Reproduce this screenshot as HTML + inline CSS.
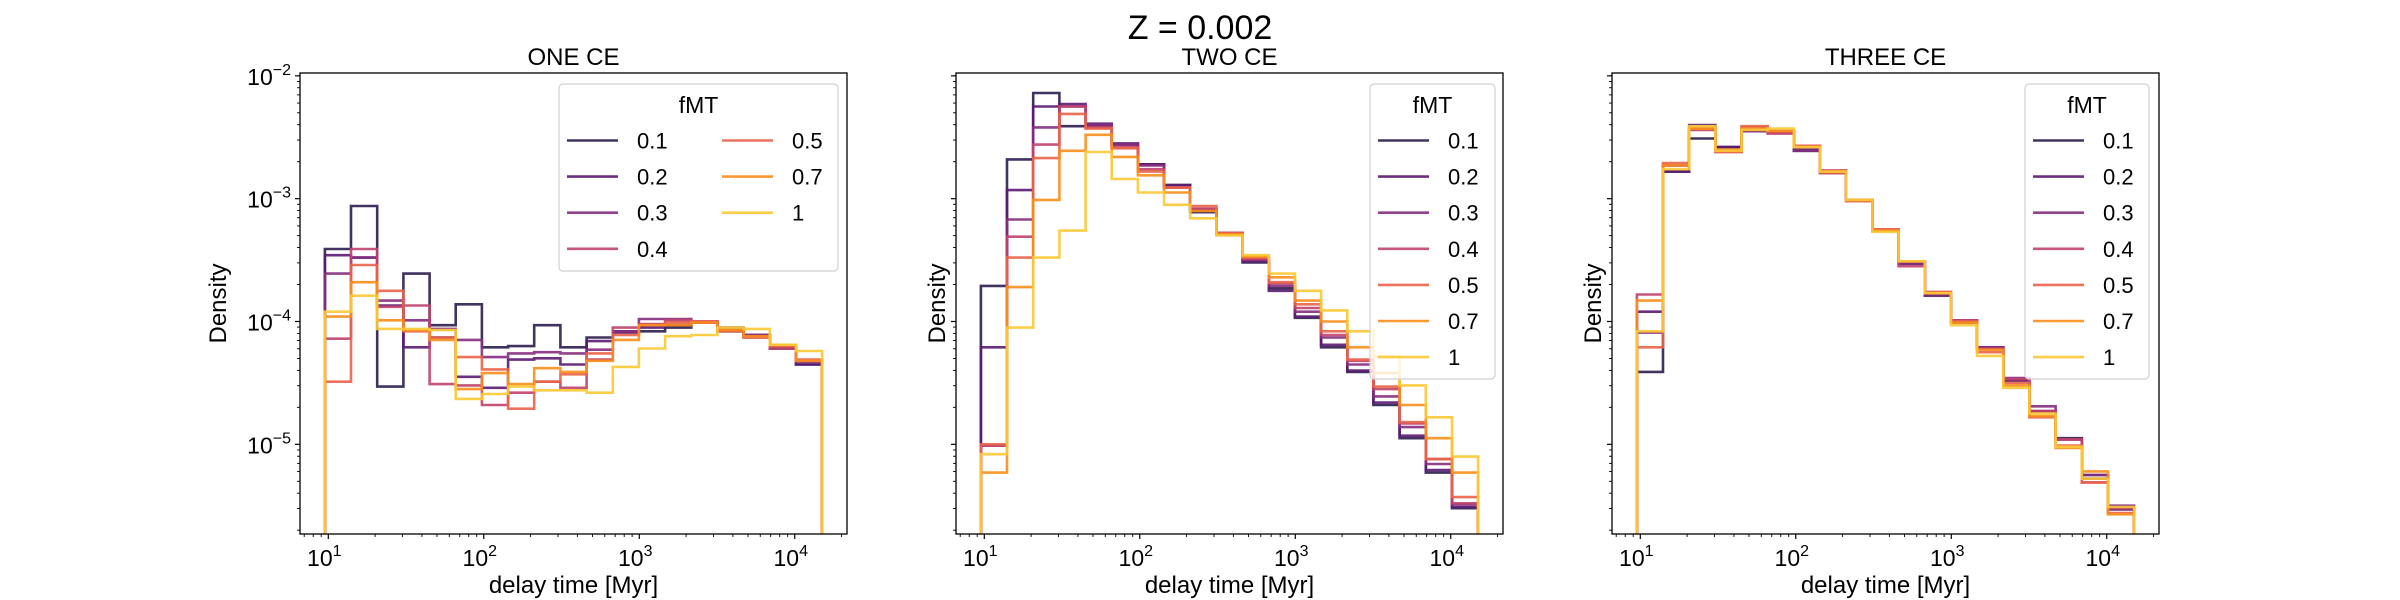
<!DOCTYPE html>
<html><head><meta charset="utf-8"><style>
html,body{margin:0;padding:0;background:#fff;}
svg{display:block;font-family:"Liberation Sans","DejaVu Sans",sans-serif;}
</style></head><body>
<svg id="fig" width="2400" height="600" viewBox="0 0 2400 600" xmlns="http://www.w3.org/2000/svg">
<rect x="0" y="0" width="2400" height="600" fill="#fff"/>
<text x="1200" y="39" text-anchor="middle" font-size="34">Z = 0.002</text>
</svg>
<script>
// ---- data: log10(Density) per bin, 19 log-spaced bins ----
const fmtLabels = ["0.1","0.2","0.3","0.4","0.5","0.7","1"];
const panelTitles = ["ONE CE","TWO CE","THREE CE"];
const binLogMin = 0.978;   // log10(9.5 Myr)
const binLogMax = 4.176;   // log10(15000 Myr)
const nBins = 19;
const yTickExps = [-2,-3,-4,-5];
const xTickExps = [1,2,3,4];

const one_01 = [-3.41,-3.06,-4.53,-3.61,-4.03,-3.86,-4.21,-4.20,-4.03,-4.21,-4.13,-4.08,-4.08,-4.05,-4.01,-4.08,-4.11,-4.22,-4.35];
const one_02 = [-3.46,-3.48,-3.87,-4.21,-4.13,-4.45,-4.54,-4.31,-4.30,-4.35,-4.16,-4.09,-4.05,-4.03,-4.01,-4.06,-4.11,-4.22,-4.35];
const one_03 = [-3.61,-3.48,-3.83,-3.99,-4.06,-4.15,-4.29,-4.26,-4.25,-4.26,-4.23,-4.08,-3.98,-3.98,-4.00,-4.05,-4.11,-4.21,-4.33];
const one_04 = [-4.14,-3.41,-3.88,-3.87,-4.51,-4.52,-4.68,-4.58,-4.49,-4.54,-4.31,-4.05,-4.02,-3.99,-4.00,-4.06,-4.13,-4.22,-4.32];
const one_05 = [-4.49,-3.54,-3.75,-4.08,-4.13,-4.29,-4.39,-4.71,-4.49,-4.43,-4.26,-4.11,-4.03,-4.01,-4.00,-4.08,-4.13,-4.20,-4.31];
const one_07 = [-3.96,-3.68,-3.99,-4.07,-4.15,-4.55,-4.42,-4.51,-4.38,-4.41,-4.32,-4.15,-4.03,-4.03,-4.01,-4.07,-4.12,-4.19,-4.32];
const one_1  = [-3.92,-3.79,-4.06,-4.06,-4.07,-4.63,-4.59,-4.53,-4.56,-4.56,-4.58,-4.37,-4.22,-4.12,-4.11,-4.05,-4.06,-4.19,-4.24];

const two_01 = [-3.71,-2.68,-2.14,-2.41,-2.41,-2.56,-2.72,-2.89,-3.11,-3.28,-3.52,-3.73,-3.97,-4.21,-4.41,-4.68,-4.95,-5.23,-5.52];
const two_02 = [-4.21,-2.93,-2.25,-2.23,-2.39,-2.55,-2.72,-2.89,-3.09,-3.28,-3.51,-3.75,-3.96,-4.19,-4.40,-4.66,-4.93,-5.21,-5.51];
const two_03 = [-5.01,-3.17,-2.42,-2.25,-2.40,-2.56,-2.73,-2.91,-3.09,-3.28,-3.50,-3.71,-3.92,-4.13,-4.35,-4.61,-4.86,-5.16,-5.49];
const two_04 = [-5.01,-3.31,-2.56,-2.25,-2.42,-2.58,-2.76,-2.91,-3.08,-3.28,-3.49,-3.69,-3.89,-4.11,-4.32,-4.55,-4.83,-5.12,-5.48];
const two_05 = [-5.00,-3.48,-2.67,-2.31,-2.43,-2.59,-2.78,-2.91,-3.06,-3.28,-3.48,-3.68,-3.86,-4.08,-4.31,-4.53,-4.82,-5.12,-5.43];
const two_07 = [-5.23,-3.72,-3.01,-2.61,-2.48,-2.66,-2.81,-2.95,-3.10,-3.29,-3.47,-3.64,-3.83,-4.00,-4.21,-4.42,-4.68,-4.95,-5.23];
const two_1  = [-5.08,-4.05,-3.48,-3.26,-2.62,-2.84,-2.95,-3.05,-3.16,-3.30,-3.46,-3.61,-3.75,-3.91,-4.08,-4.28,-4.52,-4.78,-5.10];

const three_01 = [-4.41,-2.78,-2.51,-2.58,-2.45,-2.45,-2.61,-2.79,-3.01,-3.26,-3.51,-3.78,-4.00,-4.21,-4.48,-4.73,-4.95,-5.25,-5.52];
const three_02 = [-3.92,-2.78,-2.40,-2.58,-2.45,-2.45,-2.60,-2.79,-3.01,-3.26,-3.53,-3.79,-4.01,-4.21,-4.48,-4.73,-4.96,-5.28,-5.53];
const three_03 = [-4.09,-2.73,-2.43,-2.61,-2.45,-2.46,-2.61,-2.78,-3.01,-3.26,-3.52,-3.78,-3.99,-4.21,-4.46,-4.69,-4.96,-5.25,-5.50];
const three_04 = [-3.78,-2.73,-2.44,-2.62,-2.42,-2.47,-2.57,-2.77,-3.02,-3.25,-3.55,-3.76,-3.99,-4.22,-4.47,-4.73,-4.96,-5.31,-5.52];
const three_05 = [-4.21,-2.71,-2.43,-2.62,-2.41,-2.45,-2.57,-2.79,-3.02,-3.25,-3.51,-3.76,-4.00,-4.25,-4.50,-4.78,-5.01,-5.31,-5.56];
const three_07 = [-3.83,-2.73,-2.43,-2.60,-2.43,-2.45,-2.58,-2.78,-3.01,-3.26,-3.51,-3.77,-4.01,-4.23,-4.52,-4.77,-5.03,-5.22,-5.57];
const three_1  = [-4.08,-2.76,-2.41,-2.61,-2.44,-2.43,-2.58,-2.78,-3.01,-3.27,-3.51,-3.77,-4.03,-4.28,-4.54,-4.75,-5.02,-5.28,-5.51];

const panelSeries = [
  [one_01,one_02,one_03,one_04,one_05,one_07,one_1],
  [two_01,two_02,two_03,two_04,two_05,two_07,two_1],
  [three_01,three_02,three_03,three_04,three_05,three_07,three_1]
];
const colors = ["#2c1d4e","#5b1b72","#862e7e","#c0426b","#e9644a","#f88e1c","#fbc935"];

// ---- layout ----
const NS = "http://www.w3.org/2000/svg";
const svg = document.getElementById("fig");
const axLefts = [300, 956, 1612];
const axW = 547, axTop = 73, axBot = 534;
const xMin = 0.818, xMax = 4.336;
const yTop = -1.977, yBot = -5.73;
function xs(l, i){ return axLefts[i] + (l - xMin) / (xMax - xMin) * axW; }
function ys(l){ return axTop + (yTop - l) / (yTop - yBot) * (axBot - axTop); }
function mk(tag, attrs, parent){
  const e = document.createElementNS(NS, tag);
  for (const k in attrs) e.setAttribute(k, attrs[k]);
  (parent || svg).appendChild(e);
  return e;
}
const legendRects = [
  {x:559,y:84,w:279,h:187,cols:2},
  {x:1370,y:84,w:125,h:295,cols:1},
  {x:2025,y:84,w:124,h:295,cols:1}
];

panelSeries.forEach((series, p) => {
  const g = mk("g", {});
  
  
  const L = axLefts[p];
  const cid = "clip" + p;
  const cp = mk("clipPath", {id: cid}, g);
  mk("rect", {x:L, y:axTop, width:axW, height:axBot-axTop}, cp);
  const plot = mk("g", {"clip-path": "url(#" + cid + ")"}, g);
  
  
  const step = (binLogMax - binLogMin) / nBins;
  series.forEach((vals, s) => {
    let d = "M" + xs(binLogMin, p).toFixed(1) + "," + (axBot + 20);
    vals.forEach((v, b) => {
      const x0 = xs(binLogMin + b*step, p), x1 = xs(binLogMin + (b+1)*step, p), y = ys(v);
      d += " L" + x0.toFixed(1) + "," + y.toFixed(1) + " L" + x1.toFixed(1) + "," + y.toFixed(1);
    });
    d += " L" + xs(binLogMax, p).toFixed(1) + "," + (axBot + 20);
    const path = mk("path", {d: d, fill: "none", stroke: colors[s], "stroke-width": 2.6, "stroke-opacity": 0.9}, plot);
    
    
  });
  const frame = mk("rect", {x:L, y:axTop, width:axW, height:axBot-axTop, fill:"none", stroke:"#000", "stroke-width":1.3}, g);
  
  
  const t = mk("text", {x:L + axW/2, y:axTop - 8, "text-anchor":"middle", "font-size":24}, g);
  t.textContent = panelTitles[p];
  
  
  for (let e = 0; e <= 4; e++) {
    for (let m = 1; m <= 9; m++) {
      const l = e + Math.log10(m);
      if (l < xMin || l > xMax) continue;
      const x = xs(l, p);
      mk("line", {x1:x, x2:x, y1:axBot, y2:axBot + (m===1?5:3), stroke:"#000", "stroke-width":m===1?1.2:0.9}, g);
    }
  }
  xTickExps.forEach(e => {
    const tx = mk("text", {x:xs(e, p) - 4, y:axBot + 32, "text-anchor":"middle", "font-size":23}, g);
    
    
    tx.textContent = "10";
    const sup = mk("tspan", {"font-size":16, dy:-10}, tx);
    sup.textContent = String(e);
  });
  const xl = mk("text", {x:L + axW/2, y:593, "text-anchor":"middle", "font-size":24}, g);
  xl.textContent = "delay time [Myr]";
  
  
  for (let e = -6; e <= -2; e++) {
    for (let m = 1; m <= 9; m++) {
      const l = e + Math.log10(m);
      if (l > yTop + 0.001 || l < yBot) continue;
      const y = ys(l);
      mk("line", {x1:L, x2:L - (m===1?5:3), y1:y, y2:y, stroke:"#000", "stroke-width":m===1?1.2:0.9}, g);
    }
  }
  if (p === 0) {
    yTickExps.forEach(e => {
      const ty = mk("text", {x:L - 9, y:ys(e) + 9, "text-anchor":"end", "font-size":23}, g);
      
      
      ty.textContent = "10";
      const sup = mk("tspan", {"font-size":16, dy:-10}, ty);
      sup.textContent = "\u2212" + String(-e);
    });
  }
  const yl = mk("text", {x:0, y:0, "text-anchor":"middle", "font-size":24, transform:"translate(" + (L - (p===0?74:11)) + "," + ((axTop+axBot)/2) + ") rotate(-90)"}, g);
  yl.textContent = "Density";
  
  
  const lr = legendRects[p];
  const lg = mk("g", {}, g);
  
  
  mk("rect", {x:lr.x, y:lr.y, width:lr.w, height:lr.h, rx:4, fill:"#fff", "fill-opacity":0.8, stroke:"#d0d0d0", "stroke-width":1.2}, lg);
  const lt = mk("text", {x:lr.x + lr.w/2, y:lr.y + 29, "text-anchor":"middle", "font-size":23}, lg);
  lt.textContent = "fMT";
  
  
  fmtLabels.forEach((lab, s) => {
    let col = 0, row = s;
    if (lr.cols === 2 && s >= 4) { col = 1; row = s - 4; }
    const hy = lr.y + 56.5 + row * 36.1;
    const hx = lr.x + 8 + col * 155;
    const e = mk("g", {}, lg);
    
    
    mk("line", {x1:hx, x2:hx + 51, y1:hy, y2:hy, stroke:colors[s], "stroke-width":2.6, "stroke-opacity":0.9}, e);
    const tt = mk("text", {x:hx + 70, y:hy + 8, "font-size":22}, e);
    tt.textContent = lab;
  });
});
</script>
</body></html>
